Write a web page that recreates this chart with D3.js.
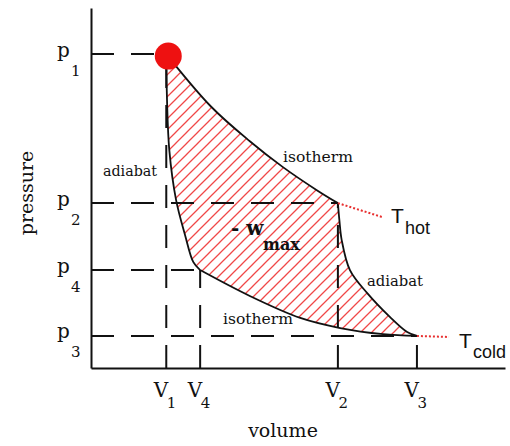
<!DOCTYPE html>
<html>
<head>
<meta charset="utf-8">
<script src="https://cdn.jsdelivr.net/npm/d3@7"></script>
<style>
  html, body { margin: 0; padding: 0; background: #fff; }
  svg { display: block; }
</style>
</head>
<body>
<svg id="chart" width="510" height="446"></svg>
<script>
// ---- data ----
const stateNames = ["1", "2", "3", "4"];
const stateVolume = [1.0, 3.28, 4.33, 1.45];
const statePressure = [8.72, 4.58, 0.89, 2.72];

const pressureTickLabels = ["1", "2", "4", "3"];
const pressureTickValues = [8.72, 4.58, 2.72, 0.89];
const volumeTickLabels = ["1", "4", "2", "3"];
const volumeTickValues = [1.0, 1.45, 3.28, 4.33];

// hot isotherm 1 -> 2
const hotIsothermV = [1.0, 1.6, 2.11, 2.55, 3.0, 3.28];
const hotIsothermP = [8.72, 7.25, 6.3, 5.58, 4.94, 4.58];
// adiabat 2 -> 3
const rightAdiabatV = [3.28, 3.30, 3.33, 3.44, 3.67, 3.97, 4.2, 4.33];
const rightAdiabatP = [4.58, 4.1, 3.56, 2.72, 2.08, 1.42, 1.0, 0.89];
// cold isotherm 3 -> 4 (stored 4 -> 3)
const coldIsothermV = [1.45, 2.11, 2.78, 3.31, 3.88, 4.33];
const coldIsothermP = [2.72, 2.0, 1.39, 1.11, 0.94, 0.89];
// adiabat 4 -> 1 (stored 1 -> 4)
const leftAdiabatV = [1.0, 1.01, 1.04, 1.13, 1.25, 1.36, 1.45];
const leftAdiabatP = [8.72, 7.44, 6.06, 4.67, 3.69, 2.94, 2.72];

// ---- drawing ----
const svg = d3.select("#chart");
const x = d3.scaleLinear().domain([0, 5.5]).range([91, 505]);
const y = d3.scaleLinear().domain([0, 10]).range([368, 8]);
const serif = "'DejaVu Serif', serif";
const sans = "'Liberation Sans', Arial, sans-serif";

const zip = (vs, ps) => vs.map((v, i) => [v, ps[i]]);
const line = d3.line().x(d => x(d[0])).y(d => y(d[1])).curve(d3.curveCatmullRom.alpha(0.5));

const seg1 = zip(hotIsothermV, hotIsothermP);
const seg2 = zip(rightAdiabatV, rightAdiabatP);
const seg3 = zip(coldIsothermV, coldIsothermP).reverse();
const seg4 = zip(leftAdiabatV, leftAdiabatP).reverse();

// hatch pattern
const defs = svg.append("defs");
const pat = defs.append("pattern")
  .attr("id", "hatch").attr("patternUnits", "userSpaceOnUse")
  .attr("width", 11).attr("height", 11);
pat.append("path")
  .attr("d", "M0,11 L11,0 M-3,3 L3,-3 M8,14 L14,8")
  .attr("stroke", "#f04848").attr("stroke-width", 1.3).attr("fill", "none");

const joined = [seg1, seg2, seg3, seg4].map((s, i) => {
  const p = line(s);
  return i === 0 ? p : "L" + p.slice(1);
}).join("") + "Z";
svg.append("path").attr("d", joined).attr("fill", "url(#hatch)").attr("stroke", "none");

// axes
const gY = svg.append("g").attr("transform", `translate(${x(0)},0)`)
  .call(d3.axisLeft(y).tickValues(pressureTickValues).tickSize(0).tickSizeOuter(0).tickFormat(() => ""));
const gX = svg.append("g").attr("transform", `translate(0,${y(0)})`)
  .call(d3.axisBottom(x).tickValues(volumeTickValues).tickSize(0).tickSizeOuter(0).tickFormat(() => ""));
[gY, gX].forEach(g => g.select(".domain").attr("stroke", "#111").attr("stroke-width", 2));

gY.selectAll(".tick text").each(function (d, i) {
  const t = d3.select(this).attr("dy", null).attr("x", null).attr("y", null)
    .attr("text-anchor", "start").attr("fill", "#111").style("font-family", serif);
  t.append("tspan").attr("x", -34).attr("y", 2).attr("font-size", 20).text("p");
  t.append("tspan").attr("x", -20).attr("y", 21).attr("font-size", 15).text(pressureTickLabels[i]);
});
gX.selectAll(".tick text").each(function (d, i) {
  const t = d3.select(this).attr("dy", null).attr("x", null).attr("y", null)
    .attr("text-anchor", "start").attr("fill", "#111").style("font-family", serif);
  t.append("tspan").attr("x", -13).attr("y", 29).attr("font-size", 20).text("V");
  t.append("tspan").attr("x", 0).attr("y", 40).attr("font-size", 15).text(volumeTickLabels[i]);
});

// dashed guides
const guides = svg.append("g").attr("stroke", "#111").attr("stroke-width", 2).attr("stroke-dasharray", "23,17");
stateNames.forEach((n, i) => {
  guides.append("line").attr("x1", x(0)).attr("x2", x(stateVolume[i]))
    .attr("y1", y(statePressure[i])).attr("y2", y(statePressure[i]));
  guides.append("line").attr("x1", x(stateVolume[i])).attr("x2", x(stateVolume[i]))
    .attr("y1", y(0)).attr("y2", y(statePressure[i]));
});

// cycle curves
[seg1, seg2, seg3, seg4].forEach(s => {
  svg.append("path").attr("d", line(s)).attr("fill", "none").attr("stroke", "#111").attr("stroke-width", 1.8);
});

// red dotted leaders
const leaders = svg.append("g").attr("stroke", "#e83030").attr("stroke-width", 2).attr("stroke-dasharray", "2,2");
leaders.append("line").attr("x1", x(stateVolume[1])).attr("y1", y(statePressure[1])).attr("x2", 382).attr("y2", 217);
leaders.append("line").attr("x1", x(stateVolume[2])).attr("y1", y(statePressure[2])).attr("x2", 449).attr("y2", 337);

// state 1 dot
svg.append("circle").attr("cx", x(stateVolume[0])).attr("cy", y(statePressure[0]))
  .attr("transform", "translate(2,2)").attr("r", 13.5).attr("fill", "#ee1111");

// temperature labels
const tHot = svg.append("text").attr("fill", "#111").style("font-family", sans);
tHot.append("tspan").attr("x", 391).attr("y", 223).attr("font-size", 21).text("T");
tHot.append("tspan").attr("x", 405).attr("y", 234).attr("font-size", 18).text("hot");
const tCold = svg.append("text").attr("fill", "#111").style("font-family", sans);
tCold.append("tspan").attr("x", 459).attr("y", 348).attr("font-size", 21).text("T");
tCold.append("tspan").attr("x", 473).attr("y", 358).attr("font-size", 18).text("cold");

// curve annotations
const notes = [
  { t: "adiabat", x: 103, y: 176, w: 54 },
  { t: "isotherm", x: 283, y: 162, w: 70 },
  { t: "adiabat", x: 367, y: 286, w: 56 },
  { t: "isotherm", x: 223, y: 324, w: 70 }
];
notes.forEach(n => {
  svg.append("text").attr("x", n.x).attr("y", n.y).attr("textLength", n.w)
    .attr("lengthAdjust", "spacingAndGlyphs")
    .attr("font-size", 14).style("font-family", serif).attr("fill", "#111").text(n.t);
});

// -w_max
const wmax = svg.append("text").attr("fill", "#111").style("font-family", serif).attr("font-weight", "bold");
wmax.append("tspan").attr("x", 231).attr("y", 235).attr("font-size", 20).text("- w");
wmax.append("tspan").attr("x", 263).attr("y", 250).attr("font-size", 16).text("max");

// axis titles
svg.append("text").attr("transform", "translate(33,193) rotate(-90)").attr("text-anchor", "middle")
  .attr("font-size", 19).style("font-family", serif).attr("fill", "#111").text("pressure");
svg.append("text").attr("x", 283).attr("y", 437).attr("text-anchor", "middle")
  .attr("font-size", 19).style("font-family", serif).attr("fill", "#111").text("volume");
</script>
</body>
</html>
